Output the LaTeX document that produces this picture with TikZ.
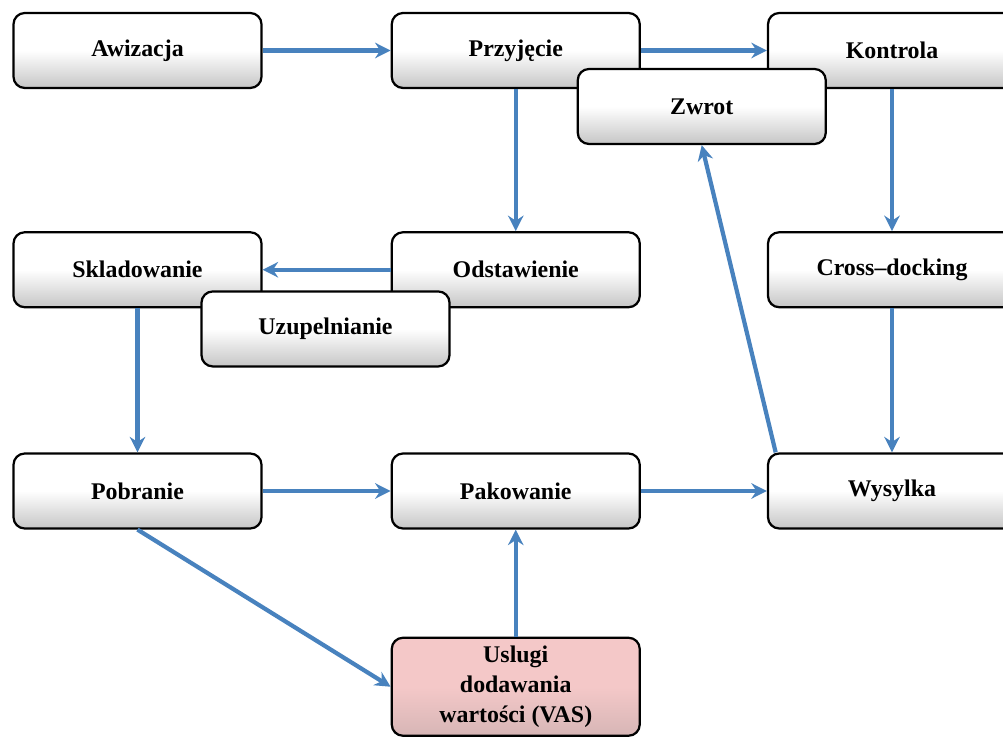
\documentclass[tikz,border=0pt]{standalone}
\usepackage{fontspec}
\setmainfont{Liberation Serif}
\usetikzlibrary{arrows.meta,positioning,calc}
\definecolor{flowblue}{RGB}{72,130,190}
\definecolor{vaspink}{RGB}{244,200,200}

\begin{document}
\begin{tikzpicture}[
      box/.style={draw,line width=1.6pt,rounded corners=8pt,
                  minimum width=6.2cm,minimum height=1.875cm,
                  top color=white,bottom color=gray!45,middle color=white,
                  align=center,font=\fontsize{17}{21}\selectfont\bfseries},
      arrow/.style={-{Stealth[length=11pt,width=11pt]},line width=3pt,
                    draw=flowblue},
    ]
    \clip (-3.4375,1.2625) rectangle (21.6375,-17.1875);

    % top row
    \node[box] (awi) {Awizacja};
    \node[box,right=3.2cm of awi] (prz) {Przyjęcie};
    \node[box,right=3.15cm of prz] (kon) {Kontrola};
    \node[box] (zwr) at ($(prz)+(4.65,-1.4)$) {Zwrot};

    % middle row
    \node[box,below=3.55cm of awi] (skl) {Skladowanie};
    \node[box,below=3.55cm of prz] (ods) {Odstawienie};
    \node[box,below=3.55cm of kon] (crd) {Cross--docking};
    \node[box] (uzu) at ($(skl)+(4.7,-1.48)$) {Uzupelnianie};

    % bottom row
    \node[box,below=3.6cm of skl] (pob) {Pobranie};
    \node[box,below=3.6cm of ods] (pak) {Pakowanie};
    \node[box,below=3.6cm of crd] (wys) {Wysylka};
    \node[box,below=2.675cm of pak,minimum height=2.45cm,inner sep=2pt,
          top color=vaspink,bottom color=vaspink!75!gray,
          middle color=vaspink] (vas)
      {Uslugi\\dodawania\\wartości (VAS)};

    % Arrows
    \draw[arrow] (awi) -- (prz);
    \draw[arrow] (prz) -- (kon);
    \draw[arrow] (prz) -- (ods);
    \draw[arrow] (kon) -- (crd);
    \draw[arrow] (ods) -- (skl);
    \draw[arrow] (skl) -- (pob);
    \draw[arrow] (crd) -- (wys);
    \draw[arrow] (pob) -- (pak);
    \draw[arrow] (pak) -- (wys);
    \draw[arrow] (vas) -- (pak);
    \draw[arrow] (pob.south) -- (vas.west);
    \draw[arrow] ($(wys.north west)+(0.22,0)$) -- (zwr.south);

\end{tikzpicture}
\end{document}
